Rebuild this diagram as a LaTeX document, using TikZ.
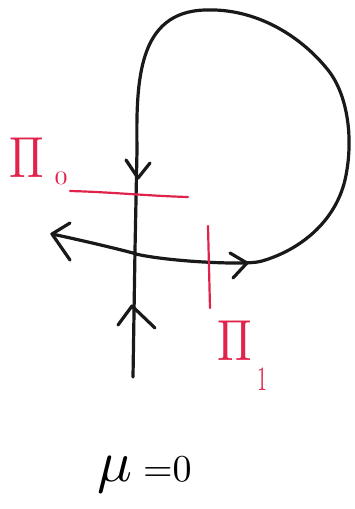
\documentclass[tikz,border=0pt]{standalone}
\begin{document}
\begin{tikzpicture}[x=1pt,y=-1pt,
  blk/.style={line width=3.2pt,line cap=round,line join=round,black!90},
  rd/.style={line width=2.2pt,line cap=round,color=sred},
  lbl/.style={color=sred,inner sep=0pt}]
\definecolor{sred}{RGB}{225,35,75}
\useasboundingbox (0,0) rectangle (354,509);
% trajectory: from bottom up, around the loop, then left
\draw[blk] (133,377) -- (135,250) -- (137,150)
  .. controls (136,80) and (138,12) .. (205,10)
  .. controls (255,8) and (300,35) .. (328,70)
  .. controls (348,95) and (354,140) .. (345,180)
  .. controls (335,222) and (300,250) .. (262,261)
  .. controls (255,263) and (245,263) .. (230,263)
  .. controls (180,262) and (140,256) .. (133,253)
  .. controls (110,247) and (80,240) .. (52,234);
% chevrons
\draw[blk] (126,160) -- (138,178) -- (150,163);
\draw[blk] (118,325) -- (132,306) -- (155,328);
\draw[blk] (230,253) -- (247,263) -- (233,278);
\draw[blk] (70,223) -- (52,234) -- (70,260);
% red sections
\draw[rd] (70,191) .. controls (110,192) and (150,196) .. (188,197);
\draw[rd] (208,226) -- (210,308);
% labels
\node[lbl,anchor=base] (p0) at (27,177) {\scalebox{4.6}[5.8]{$\Pi$}};
\node[lbl,anchor=base] (p0s) at (61,184) {\scalebox{2.6}[1.9]{0}};
\node[lbl,anchor=base] (p1) at (235,360) {\scalebox{4.6}[5.8]{$\Pi$}};
\node[lbl,anchor=base] (p1s) at (262,390) {\scalebox{2}[3.4]{1}};
\node[inner sep=0pt,anchor=base west] (mu) at (97,481) {\scalebox{5.8}{$\mu$}};
\node[inner sep=0pt,anchor=base west] (eq) at (143,481) {\scalebox{3.8}{${=}0$}};
\end{tikzpicture}
\end{document}
